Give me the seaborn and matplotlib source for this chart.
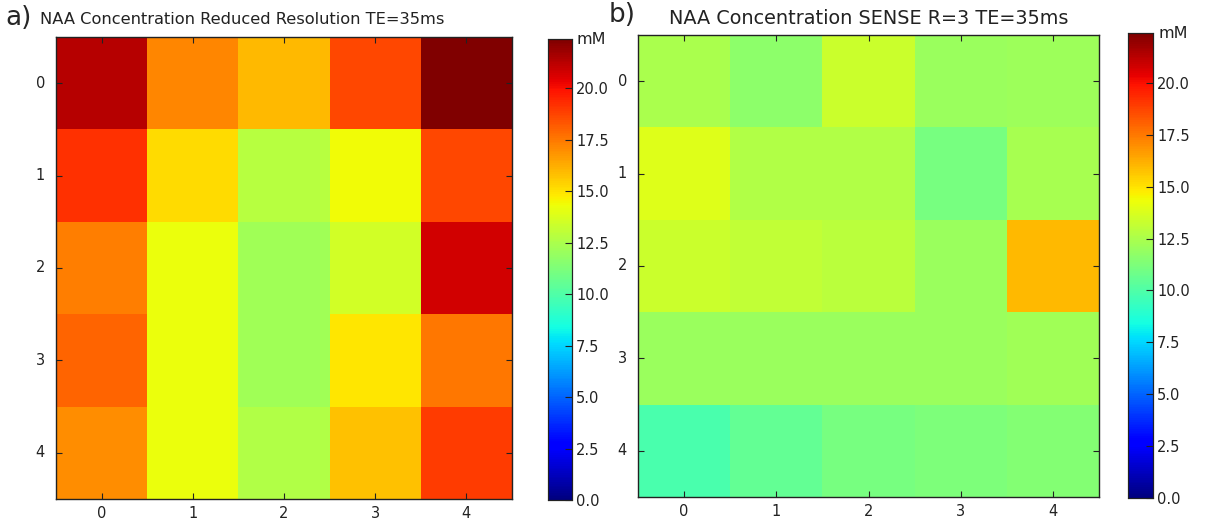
import numpy as np
import pandas as pd
import matplotlib
matplotlib.use("Agg")
import matplotlib.pyplot as plt
import seaborn as sns

# Data (mM), rows 0-4 x columns 0-4
rows = [0, 1, 2, 3, 4]
cols = [0, 1, 2, 3, 4]
reduced_res = [
    [21.3, 17.2, 16.0, 18.7, 22.4],
    [19.2, 15.2, 12.8, 14.4, 18.7],
    [17.4, 14.2, 12.2, 13.5, 20.8],
    [18.0, 14.2, 12.2, 14.9, 17.5],
    [17.0, 14.2, 12.6, 15.8, 18.9],
]
sense_r3 = [
    [12.5, 11.7, 13.3, 12.0, 12.1],
    [13.9, 12.6, 12.6, 11.1, 12.4],
    [13.3, 13.1, 12.9, 12.0, 16.0],
    [12.0, 12.0, 12.0, 12.0, 12.2],
    [9.8, 10.5, 11.1, 11.2, 11.4],
]
cbar_ticks = [0.0, 2.5, 5.0, 7.5, 10.0, 12.5, 15.0, 17.5, 20.0]
titles = ["NAA Concentration Reduced Resolution TE=35ms",
          "NAA Concentration SENSE R=3 TE=35ms"]
panel_labels = ["a)", "b)"]
unit = "mM"
vmin, vmax = 0.0, 22.4

sns.set_style("white")
plt.rcParams['font.family'] = ['DejaVu Sans']

fig = plt.figure(figsize=(12.05, 5.22), dpi=100)
W, H = 1205, 522

def box(x0, y0, x1, y1):
    return [x0 / W, 1 - y1 / H, (x1 - x0) / W, (y1 - y0) / H]

ax_specs = [
    (box(56, 37, 512, 499), box(548, 39, 572, 500)),
    (box(638, 35, 1099, 497), box(1128, 33, 1153, 498)),
]
datasets = [reduced_res, sense_r3]

for (axpos, cpos), data in zip(ax_specs, datasets):
    ax = fig.add_axes(axpos)
    cax = fig.add_axes(cpos)
    df = pd.DataFrame(data, index=rows, columns=cols)
    sns.heatmap(df, ax=ax, cbar_ax=cax, cmap="jet", vmin=vmin, vmax=vmax,
                cbar_kws={"ticks": cbar_ticks, "format": "%.1f"})
    ax.set_axisbelow(False)
    for s in ax.spines.values():
        s.set_visible(True)
        s.set_color("#222222")
        s.set_linewidth(1.0)
        s.set_zorder(5)
    ax.tick_params(axis="both", direction="in", length=4, width=0.8,
                   top=True, right=True, bottom=True, left=True,
                   labelsize=10.5, colors="#222222", zorder=6)
    ax.tick_params(axis="x", pad=5)
    ax.tick_params(axis="y", pad=8, labelrotation=0)
    ax.set_xlabel("")
    ax.set_ylabel("")
    cax.set_axisbelow(False)
    cax.tick_params(direction="in", length=5, width=0.8, labelsize=10.5,
                    right=True, left=False, pad=3, colors="#222222")
    for s in cax.spines.values():
        s.set_visible(True)
        s.set_color("#222222")
        s.set_linewidth(0.8)
    cax.text(1.2, 1.0, unit, transform=cax.transAxes, ha="left", va="center",
             fontsize=11.5, color="#222222")

fig.text(40 / W, 1 - 20 / H, titles[0], ha="left", va="center", fontsize=11.7,
         color="#222222")
fig.text(869 / W, 1 - 18 / H, titles[1], ha="center", va="center", fontsize=13.9,
         color="#222222")
fig.text(5 / W, 1 - 18 / H, panel_labels[0], ha="left", va="center", fontsize=19)
fig.text(609 / W, 1 - 15 / H, panel_labels[1], ha="left", va="center", fontsize=19)

fig.savefig("out.png", dpi=100)
